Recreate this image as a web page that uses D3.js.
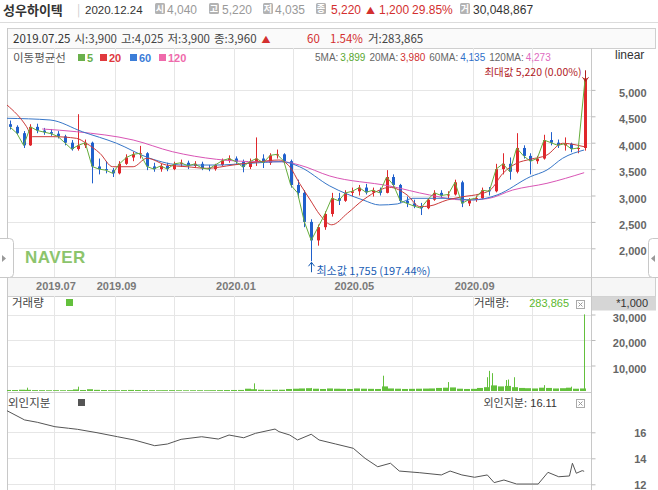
<!DOCTYPE html>
<html>
<head>
<meta charset="utf-8">
<script src="https://cdn.jsdelivr.net/npm/d3@7"></script>
<style>
body { margin: 0; background: #fff; }
svg { display: block; font-family: "Noto Sans CJK KR", "Liberation Sans", sans-serif; }
</style>
</head>
<body>
<svg id="chart" width="658" height="490"></svg>
<script>
// weekly candles (one per week, Friday close)
var opens = [4350,4300,4180,3950,4300,4230,4200,4170,4120,4000,
  3880,3950,4000,3550,3500,3480,3420,3600,3720,3780,
  3800,3550,3500,3560,3500,3600,3620,3560,3600,3520,
  3500,3580,3660,3700,3640,3540,3640,3700,3620,3760,
  3780,3650,3200,3050,2500,2150,2400,2650,2950,2900,
  3050,3080,3150,3060,3100,3050,3350,3200,2900,2850,
  2800,2760,2920,3050,3000,3020,3250,2850,2920,2950,
  3100,3080,3500,3600,3450,3900,3750,3650,3700,4050,
  4000,3950,3980,3880,3900];
var highs = [4420,4330,4220,4350,4360,4280,4260,4220,4150,4050,
  4540,4060,4020,3700,3650,3520,3650,3780,3830,3940,
  3820,3620,3600,3620,3640,3680,3660,3650,3640,3580,
  3600,3700,3760,3740,3680,3700,4100,3780,3800,3870,
  3800,3680,3300,3100,2550,2450,2700,3050,3050,3100,
  3150,3200,3220,3150,3150,3480,3400,3220,2980,2920,
  2860,2950,3100,3100,3080,3300,3280,2950,3000,3150,
  3160,3600,3800,3720,4180,3950,3800,3750,4150,4200,
  4060,4100,4000,3950,5220];
var lows = [4250,4150,3900,3940,4180,4150,4130,4080,3950,3850,
  3850,3900,3230,3400,3420,3350,3400,3580,3650,3700,
  3480,3450,3450,3460,3480,3540,3500,3520,3480,3460,
  3470,3560,3620,3600,3440,3500,3560,3520,3580,3700,
  3600,3150,2950,2400,1755,2050,2350,2600,2820,2880,
  2980,3000,3020,2980,3000,3040,3150,2860,2780,2760,
  2630,2740,2900,2950,2950,3000,2780,2800,2880,2930,
  3000,3060,3400,3300,3420,3700,3400,3600,3680,3950,
  3900,3850,3820,3800,3850];
var closes = [4300,4180,3950,4300,4230,4200,4170,4120,4000,3880,
  3950,4000,3550,3500,3480,3420,3600,3720,3780,3800,
  3550,3500,3560,3500,3600,3620,3560,3600,3520,3500,
  3580,3660,3700,3640,3540,3640,3700,3620,3760,3780,
  3650,3200,3050,2500,2150,2400,2650,2950,2900,3050,
  3080,3150,3060,3100,3050,3350,3200,2900,2850,2800,
  2760,2920,3050,3000,3020,3250,2850,2920,2950,3100,
  3080,3500,3600,3450,3900,3750,3650,3700,4050,4000,
  3950,3980,3880,3900,5220];

// moving averages [date, price]
var ma20 = [["2019-05-14",4714],["2019-06-03",4303],["2019-06-09",4114],["2019-06-30",4114],
  ["2019-07-24",4083],["2019-08-03",3989],["2019-08-17",3799],["2019-08-30",3545],["2019-09-20",3545],
  ["2019-10-04",3705],["2019-10-24",3577],["2019-11-14",3545],["2019-12-04",3515],["2019-12-31",3577],
  ["2020-01-27",3640],["2020-02-16",3672],["2020-02-27",3545],["2020-03-08",3231],["2020-03-19",2915],
  ["2020-03-29",2631],["2020-04-10",2445],["2020-04-26",2663],["2020-05-12",2915],["2020-05-29",3104],
  ["2020-06-08",3155],["2020-06-26",3010],["2020-07-09",2789],["2020-07-19",2801],["2020-08-06",2915],
  ["2020-08-22",2977],["2020-09-08",3028],["2020-09-19",3104],["2020-10-02",3420],["2020-10-16",3610],
  ["2020-10-30",3686],["2020-11-16",3767],["2020-12-02",3989],["2020-12-16",3957],["2020-12-24",3924]];
var ma60 = [["2019-05-14",4462],["2019-06-27",4430],["2019-07-30",4208],["2019-09-03",3989],
  ["2019-10-07",3705],["2019-11-10",3577],["2019-12-14",3577],["2020-01-17",3610],["2020-02-19",3640],
  ["2020-03-08",3545],["2020-04-08",3180],["2020-05-12",2915],["2020-05-29",2820],["2020-06-16",2840],
  ["2020-07-02",2947],["2020-08-06",2947],["2020-09-01",2915],["2020-09-26",3010],["2020-10-30",3356],
  ["2020-11-16",3483],["2020-12-02",3705],["2020-12-24",3862]];
var ma120 = [["2019-06-19",4260],["2019-07-24",4208],["2019-09-20",4051],["2019-10-30",3830],
  ["2019-12-14",3686],["2020-01-27",3640],["2020-02-19",3640],["2020-03-08",3577],["2020-04-08",3369],
  ["2020-06-08",3180],["2020-07-19",3010],["2020-08-22",2915],["2020-09-16",2940],["2020-10-12",3104],
  ["2020-11-16",3231],["2020-12-24",3432]];

// volume, thousands of shares: weekly daily-average and the single-day spikes
var volWeekly = [400,380,500,450,350,330,300,320,300,350,
  600,400,700,450,380,350,330,360,420,380,
  360,330,300,320,340,300,280,300,310,290,
  320,350,380,400,420,900,700,500,450,480,
  500,800,900,1000,1100,900,800,1000,900,850,
  800,1000,900,850,800,1800,1000,900,800,850,
  900,950,1000,1200,1300,1400,900,800,850,1200,
  1500,2200,1800,2000,1500,1200,1100,1000,1300,1200,
  1000,1100,1300,900,1000];
var volSpikes = [["2019-06-03",1300],["2019-07-26",1700],["2020-01-22",3000],["2020-03-20",1200],
  ["2020-06-01",6000],["2020-08-07",3500],["2020-09-16",5400],["2020-09-18",7900],["2020-09-21",7000],
  ["2020-10-05",4300],["2020-10-07",4500],["2020-10-13",5400],["2020-11-13",2300],["2020-12-11",1700],
  ["2020-12-24",30049]];

// foreign ownership, %
var foreignShare = [["2019-05-14",17.66],["2019-06-01",16.95],["2019-06-14",16.77],["2019-07-02",16.43],
  ["2019-07-16",16.31],["2019-07-25",16.23],["2019-08-14",15.97],["2019-09-04",15.66],["2019-09-21",15.41],
  ["2019-10-12",14.97],["2019-10-25",15.10],["2019-11-08",15.46],["2019-11-29",15.66],["2019-12-16",15.48],
  ["2019-12-27",15.79],["2020-01-11",15.58],["2020-01-23",15.92],["2020-02-12",16.25],["2020-02-16",16.05],
  ["2020-02-27",15.79],["2020-03-06",15.41],["2020-03-20",15.85],["2020-03-28",15.41],["2020-04-14",15.10],
  ["2020-05-02",14.77],["2020-05-14",14.00],["2020-05-27",13.35],["2020-06-09",13.62],["2020-06-18",13.02],
  ["2020-07-09",12.89],["2020-07-31",12.72],["2020-08-09",13.02],["2020-08-21",12.72],["2020-09-03",12.54],
  ["2020-09-16",12.72],["2020-09-23",12.13],["2020-10-03",12.33],["2020-10-16",12.02],["2020-11-07",12.02],
  ["2020-11-17",12.92],["2020-11-28",12.58],["2020-12-09",12.64],["2020-12-12",13.62],["2020-12-16",12.85],
  ["2020-12-22",13.05],["2020-12-24",13.00]];

// axes
var gridMonths = ["2019-07-01","2019-09-01","2019-11-01","2020-01-01","2020-03-01","2020-05-01","2020-07-01","2020-09-01","2020-11-01"];
var xTickLabels = ["2019.07","2019.09","2020.01","2020.05","2020.09"];
var xTickDates = ["2019-07-01","2019-09-01","2020-01-01","2020-05-01","2020-09-01"];
var priceTicks = [2000,2500,3000,3500,4000,4500,5000];
var volTicks = [10000,20000,30000];
var foreignTicks = [12,14,16];

var svg = d3.select("#chart");
var W = 658;
var plotL = 7, plotR = 591, frameR = 655;
var mainTop = 48, mainBot = 277, bandBot = 296, volBot = 392, frgTop = 393, frgBot = 490;
var upColor = "#e0262b", downColor = "#2060cc";
var numFont = "Liberation Sans, Arial, sans-serif";

var parse = d3.timeParse("%Y-%m-%d");
var x = d3.scaleTime().domain([parse("2019-05-14"), parse("2020-12-31")]).range([plotL, plotR]);
var y = d3.scaleLinear().domain([2000, 5000]).range([248.3, 89.9]);
var yVol = d3.scaleLinear().domain([0, 30000]).range([391, 314.5]);
var yFrg = d3.scaleLinear().domain([12, 16]).range([484.3, 432.3]);

var weekDates = d3.timeFriday.range(parse("2019-05-17"), parse("2020-12-26"));
var candles = weekDates.map(function (d, i) {
  return {date: d, o: opens[i], h: highs[i], l: lows[i], c: closes[i], v: volWeekly[i]};
});

// writes a run of text pieces one after another: [text, colour, font, size, gapAfter]
function chain(x0, yb, pieces) {
  var cx = x0;
  pieces.forEach(function (p) {
    var t = svg.append("text").attr("x", cx).attr("y", yb).text(p[0])
      .attr("fill", p[1]).attr("font-size", p[3]);
    if (p[2]) t.attr("font-family", p[2]);
    cx += t.node().getComputedTextLength() + (p[4] || 0);
  });
  return cx;
}

// clip paths
var defs = svg.append("defs");
function clip(id, y0, y1) {
  defs.append("clipPath").attr("id", id).append("rect")
    .attr("x", plotL).attr("y", y0).attr("width", plotR - plotL).attr("height", y1 - y0);
}
clip("clipMain", mainTop, mainBot);
clip("clipVol", bandBot, volBot);
clip("clipFrg", frgTop, frgBot);

// ---------- header ----------
svg.append("line").attr("x1", 0).attr("x2", W).attr("y1", 22.5).attr("y2", 22.5).attr("stroke", "#dcdcdc");
svg.append("text").attr("x", 3).attr("y", 15).text("성우하이텍")
  .attr("font-size", 13).attr("font-weight", "bold").attr("fill", "#333");
svg.append("text").attr("x", 77).attr("y", 14).text("|").attr("font-size", 12).attr("fill", "#ccc");
svg.append("text").attr("x", 85).attr("y", 13.5).text("2020.12.24")
  .attr("font-family", numFont).attr("font-size", 11.5).attr("fill", "#333");

function icon(x0, ch) {
  svg.append("rect").attr("x", x0).attr("y", 3).attr("width", 10).attr("height", 11).attr("rx", 1.5)
    .attr("fill", "#b3b3b3");
  svg.append("text").attr("x", x0 + 5).attr("y", 12).attr("text-anchor", "middle").text(ch)
    .attr("font-size", 9).attr("font-weight", "bold").attr("fill", "#fff");
}
var red = "#d32f2f";
icon(155, "시"); chain(167, 13.5, [["4,040", "#999", numFont, 12]]);
icon(209, "고"); chain(222, 13.5, [["5,220", "#999", numFont, 12]]);
icon(263, "저"); chain(275, 13.5, [["4,035", "#999", numFont, 12]]);
icon(316, "종");
chain(331, 13.5, [["5,220", red, numFont, 12, 5], ["▲", red, null, 9, 4],
  ["1,200", red, numFont, 12, 3], ["29.85%", red, numFont, 12]]);
icon(460, "거"); chain(473, 13.5, [["30,048,867", "#333", numFont, 12]]);

// ---------- frame backgrounds ----------
svg.append("rect").attr("x", plotL + 0.5).attr("y", 28.5).attr("width", frameR - plotL).attr("height", mainTop - 28)
  .attr("fill", "#fafafa").attr("stroke", "#cfcfcf");
svg.append("rect").attr("x", plotL + 0.5).attr("y", mainBot + 0.5).attr("width", frameR - plotL).attr("height", bandBot - mainBot)
  .attr("fill", "#f6f6f6").attr("stroke", "#cfcfcf");
svg.append("rect").attr("x", plotR + 1).attr("y", bandBot + 0.5).attr("width", frameR - plotR).attr("height", 14)
  .attr("fill", "#d6d6d6");

// info row
chain(13, 42.5, [["2019.07.25", "#333", null, 11.5, 4], ["시:3,900", "#444", null, 11.5, 4],
  ["고:4,025", "#444", null, 11.5, 4], ["저:3,900", "#444", null, 11.5, 4],
  ["종:3,960", "#444", null, 11.5, 5], ["▲", red, null, 9, 0]]);
chain(307, 42.5, [["60", red, null, 11.5]]);
chain(330, 42.5, [["1.54%", red, null, 11.5, 5], ["거:283,865", "#444", null, 11.5]]);

// ---------- grid ----------
var grid = svg.append("g").attr("stroke", "#e6e6e6").attr("shape-rendering", "crispEdges");
[[mainTop, mainBot], [bandBot, volBot], [frgTop, frgBot]].forEach(function (p) {
  grid.selectAll(null).data(gridMonths).enter().append("line")
    .attr("x1", function (d) { return Math.round(x(parse(d))) + 0.5; })
    .attr("x2", function (d) { return Math.round(x(parse(d))) + 0.5; })
    .attr("y1", p[0]).attr("y2", p[1]);
});
function hgrid(scale, vals) {
  grid.selectAll(null).data(vals).enter().append("line")
    .attr("x1", plotL).attr("x2", plotR)
    .attr("y1", function (d) { return Math.round(scale(d)) + 0.5; })
    .attr("y2", function (d) { return Math.round(scale(d)) + 0.5; });
}
hgrid(y, priceTicks);
hgrid(yVol, volTicks);
hgrid(yFrg, foreignTicks);

// frame lines
var fr = svg.append("g").attr("stroke", "#c8c8c8").attr("shape-rendering", "crispEdges");
fr.append("line").attr("x1", plotR + 0.5).attr("x2", plotR + 0.5).attr("y1", mainTop).attr("y2", frgBot);
fr.append("line").attr("x1", plotL + 0.5).attr("x2", plotL + 0.5).attr("y1", 28).attr("y2", frgBot);
fr.append("line").attr("x1", plotL).attr("x2", plotR).attr("y1", volBot + 0.5).attr("y2", volBot + 0.5);

// NAVER mark
svg.append("text").attr("x", 25).attr("y", 263).text("NAVER")
  .attr("font-family", numFont).attr("font-size", 17).attr("font-weight", "bold")
  .attr("letter-spacing", 0.5).attr("fill", "#8cc46c");

// ---------- candles ----------
var cg = svg.append("g").attr("clip-path", "url(#clipMain)");
cg.selectAll(".wick").data(candles).enter().append("line")
  .attr("x1", function (d) { return Math.round(x(d.date)) + 0.5; })
  .attr("x2", function (d) { return Math.round(x(d.date)) + 0.5; })
  .attr("y1", function (d) { return y(d.h); })
  .attr("y2", function (d) { return y(d.l); })
  .attr("stroke", function (d) { return d.c >= d.o ? upColor : downColor; });
cg.selectAll(".body").data(candles).enter().append("rect")
  .attr("x", function (d) { return Math.round(x(d.date)) - 1; })
  .attr("width", 3)
  .attr("y", function (d) { return y(Math.max(d.o, d.c)); })
  .attr("height", function (d) { return Math.max(1, Math.abs(y(d.o) - y(d.c))); })
  .attr("fill", function (d) { return d.c >= d.o ? upColor : downColor; });

// ---------- moving averages ----------
var maLine = d3.line()
  .x(function (d) { return x(parse(d[0])); })
  .y(function (d) { return y(d[1]); })
  .curve(d3.curveMonotoneX);
var mg = svg.append("g").attr("clip-path", "url(#clipMain)").attr("fill", "none").attr("stroke-width", 1);
mg.append("path").attr("d", maLine(ma120)).attr("stroke", "#d955b5");
mg.append("path").attr("d", maLine(ma60)).attr("stroke", "#3776c8");
mg.append("path").attr("d", maLine(ma20)).attr("stroke", "#cc3a3a");
mg.append("path")
  .attr("d", d3.line().x(function (d) { return x(d.date); }).y(function (d) { return y(d.c); })(candles))
  .attr("stroke", "#66ad3c");

// max / min notes
var maxC = candles.reduce(function (a, b) { return b.h > a.h ? b : a; });
var minC = candles.reduce(function (a, b) { return b.l < a.l ? b : a; });
var mx = Math.round(x(maxC.date)) + 0.5, my = y(maxC.h);
svg.append("text").attr("x", mx - 4).attr("y", my - 2.5).attr("text-anchor", "end")
  .text("최대값 5,220 (0.00%)").attr("font-size", 10.5).attr("fill", "#b0201e");
svg.append("path").attr("d", "M" + mx + "," + (my - 8) + "V" + (my + 3) + "M" + (mx - 3) + "," + (my - 1) + "L" + mx + "," + (my + 3) + "L" + (mx + 3) + "," + (my - 1))
  .attr("fill", "none").attr("stroke", "#b0201e");
var nx = Math.round(x(minC.date)) + 0.5, ny = y(minC.l);
svg.append("path").attr("d", "M" + nx + "," + (ny + 11) + "V" + (ny + 1) + "M" + (nx - 3) + "," + (ny + 5) + "L" + nx + "," + (ny + 1) + "L" + (nx + 3) + "," + (ny + 5))
  .attr("fill", "none").attr("stroke", "#1a5db4");
svg.append("text").attr("x", nx + 5).attr("y", ny + 14)
  .text("최소값 1,755 (197.44%)").attr("font-size", 11).attr("fill", "#1a5db4");

// legend rows
svg.append("text").attr("x", 13).attr("y", 62).text("이동평균선").attr("font-size", 11.5).attr("fill", "#555");
[["5", "#6ab04c", 78], ["20", "#e0393e", 100], ["60", "#3b7dd8", 130], ["120", "#ef6aab", 159]].forEach(function (l) {
  svg.append("rect").attr("x", l[2]).attr("y", 54).attr("width", 7).attr("height", 7).attr("fill", l[1]);
  svg.append("text").attr("x", l[2] + 9).attr("y", 62).text(l[0])
    .attr("font-family", numFont).attr("font-size", 11).attr("font-weight", "bold").attr("fill", l[1]);
});
chain(315, 61, [["5MA:", "#666", numFont, 10, 2], ["3,899", "#5aa832", numFont, 10, 4],
  ["20MA:", "#666", numFont, 10, 2], ["3,980", "#d13030", numFont, 10, 4],
  ["60MA:", "#666", numFont, 10, 2], ["4,135", "#2f6fc9", numFont, 10, 4],
  ["120MA:", "#666", numFont, 10, 2], ["4,273", "#e06ac0", numFont, 10]]);
svg.append("text").attr("x", 615).attr("y", 59).text("linear")
  .attr("font-family", numFont).attr("font-size", 12).attr("fill", "#333");

// ---------- right axes ----------
function rightAxis(scale, vals, fmt, dy) {
  var g = svg.append("g").attr("transform", "translate(" + (plotR + 0.5) + ",0)")
    .call(d3.axisRight(scale).tickValues(vals).tickSize(4).tickFormat(fmt));
  g.select(".domain").remove();
  g.selectAll("line").attr("stroke", "#bbb");
  g.selectAll("text").attr("x", 55).attr("text-anchor", "end").attr("dy", dy)
    .attr("font-family", numFont).attr("font-size", 11).attr("font-weight", "bold").attr("fill", "#666");
}
rightAxis(y, priceTicks, d3.format(","), "0.6em");
rightAxis(yVol, volTicks, d3.format(","), "0.6em");
rightAxis(yFrg, foreignTicks, d3.format("d"), "0.4em");

// x axis labels
svg.append("g").selectAll("text").data(xTickDates).enter().append("text")
  .attr("x", function (d) { return x(parse(d)) + 2; })
  .attr("y", 289.5).attr("text-anchor", "middle")
  .text(function (d, i) { return xTickLabels[i]; })
  .attr("font-family", numFont).attr("font-size", 11).attr("font-weight", "bold").attr("fill", "#7a7a7a");

// ---------- volume ----------
var vg = svg.append("g").attr("clip-path", "url(#clipVol)").attr("fill", "#63c03c");
vg.selectAll(".vw").data(candles).enter().append("rect")
  .attr("x", function (d) { return Math.round(x(d.date)) - 5; })
  .attr("width", 6)
  .attr("y", function (d) { return yVol(d.v); })
  .attr("height", function (d) { return yVol(0) - yVol(d.v); });
vg.selectAll(".vs").data(volSpikes).enter().append("rect")
  .attr("x", function (d) { return Math.round(x(parse(d[0]))); })
  .attr("width", 1)
  .attr("y", function (d) { return yVol(d[1]); })
  .attr("height", function (d) { return yVol(0) - yVol(d[1]); });

svg.append("text").attr("x", 12).attr("y", 307).text("거래량").attr("font-size", 11.5).attr("fill", "#444");
svg.append("rect").attr("x", 66).attr("y", 299).attr("width", 7).attr("height", 7).attr("fill", "#63c03c");
chain(474, 307, [["거래량:", "#444", null, 11.5, 0]]);
svg.append("text").attr("x", 569).attr("y", 307).attr("text-anchor", "end").text("283,865")
  .attr("font-family", numFont).attr("font-size", 11).attr("fill", "#5cb82e");
svg.append("text").attr("x", 648).attr("y", 307).attr("text-anchor", "end").text("*1,000")
  .attr("font-family", numFont).attr("font-size", 11).attr("fill", "#333");

// ---------- foreign share ----------
svg.append("path").attr("clip-path", "url(#clipFrg)")
  .attr("d", d3.line().x(function (d) { return x(parse(d[0])); }).y(function (d) { return yFrg(d[1]); })(foreignShare))
  .attr("fill", "none").attr("stroke", "#555").attr("stroke-width", 1);
svg.append("text").attr("x", 8).attr("y", 407).text("외인지분").attr("font-size", 11.5).attr("fill", "#444");
svg.append("rect").attr("x", 78).attr("y", 399).attr("width", 7).attr("height", 7).attr("fill", "#555");
svg.append("text").attr("x", 557).attr("y", 407).attr("text-anchor", "end").text("16.11")
  .attr("font-family", numFont).attr("font-size", 11).attr("fill", "#333");
svg.append("text").attr("x", 527).attr("y", 407).attr("text-anchor", "end").text("외인지분:")
  .attr("font-size", 11).attr("fill", "#444");

// close boxes
[300, 399].forEach(function (yy) {
  svg.append("rect").attr("x", 576.5).attr("y", yy + 0.5).attr("width", 8).attr("height", 8)
    .attr("fill", "#fff").attr("stroke", "#aaa");
  svg.append("path").attr("d", "M578.5," + (yy + 2.5) + "L582.5," + (yy + 6.5) + "M582.5," + (yy + 2.5) + "L578.5," + (yy + 6.5))
    .attr("stroke", "#999");
});

// side tabs
svg.append("rect").attr("x", -6.5).attr("y", 238.5).attr("width", 20).attr("height", 39).attr("rx", 4)
  .attr("fill", "#fff").attr("stroke", "#c8c8c8");
svg.append("path").attr("d", "M2,255L6,258.5L2,262Z").attr("fill", "#999");
svg.append("rect").attr("x", 648.5).attr("y", 238.5).attr("width", 20).attr("height", 39).attr("rx", 4)
  .attr("fill", "#fff").attr("stroke", "#c8c8c8");
svg.append("path").attr("d", "M655,255L651,258.5L655,262Z").attr("fill", "#999");
</script>
</body>
</html>
